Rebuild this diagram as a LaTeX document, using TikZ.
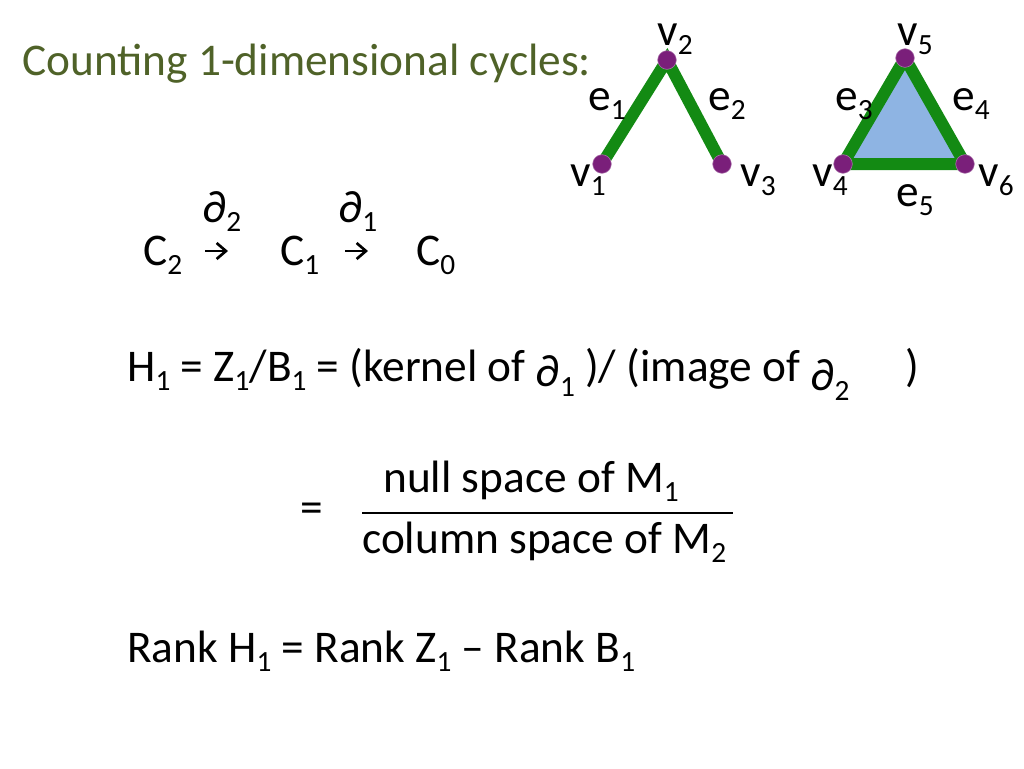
\documentclass[tikz,border=0pt]{standalone}
\usepackage{fontspec}
\usetikzlibrary{arrows.meta}
\setmainfont{Carlito}
\definecolor{titlegreen}{HTML}{4F6228}
\definecolor{edgegreen}{HTML}{138A13}
\definecolor{vertpurple}{HTML}{7A1F7A}
\definecolor{faceblue}{HTML}{8EB4E3}
\newcommand{\sbs}[1]{\raisebox{-0.22em}{\fontsize{22}{24}\selectfont #1}}
\tikzset{
	txt/.style={font=\fontsize{34}{38}\selectfont, inner sep=0pt, anchor=base west},
	vert/.style={circle, fill=vertpurple, draw=vertpurple!60!white, inner sep=0pt, minimum size=14pt},
	edge/.style={edgegreen, line width=9pt},
}
\begin{document}
\begin{tikzpicture}[x=0.75pt,y=-0.75pt]
		\useasboundingbox (0,0) rectangle (1024,768);
		
		% Title
		\node[txt, text=titlegreen] (title) at (22,75) {Counting 1-dimensional cycles:};
		
		% Path v1 v2 v3
		\coordinate (v1) at (602,164);
		\coordinate (v2) at (667,60);
		\coordinate (v3) at (722,164);
		\draw[edge] (v1) -- (v2) -- (v3);
		\node[vert] (n1) at (v1) {};
		\node[vert] (n2) at (v2) {};
		\node[vert] (n3) at (v3) {};
		
		% Triangle v4 v5 v6
		\coordinate (v4) at (843,164);
		\coordinate (v5) at (905,58);
		\coordinate (v6) at (965,164);
		\filldraw[edge, fill=faceblue, line join=round] (v4) -- (v5) -- (v6) -- cycle;
		\node[vert] (n4) at (v4) {};
		\node[vert] (n5) at (v5) {};
		\node[vert] (n6) at (v6) {};
		
		% Labels
		\node[txt] (l2) at (657,45) {v\sbs{2}};
		\node[txt] (l5) at (897,45) {v\sbs{5}};
		\node[txt] (le1) at (588,110) {e\sbs{1}};
		\node[txt] (le2) at (708,110) {e\sbs{2}};
		\node[txt] (le3) at (835,110) {e\sbs{3}};
		\node[txt] (le4) at (952,110) {e\sbs{4}};
		\node[txt] (l1) at (570,186) {v\sbs{1}};
		\node[txt] (l3) at (740,186) {v\sbs{3}};
		\node[txt] (l4) at (812,186) {v\sbs{4}};
		\node[txt] (l6) at (978,186) {v\sbs{6}};
		\node[txt] (le5) at (896,206) {e\sbs{5}};
		
		% Chain complex
		\node[txt] (d2) at (202,222) {∂\sbs{2}};
		\node[txt] (d1) at (338,222) {∂\sbs{1}};
		\node[txt] (c2) at (143,265) {C\sbs{2}};
		\node[txt] (c1) at (280,265) {C\sbs{1}};
		\node[txt] (c0) at (416,265) {C\sbs{0}};
		\draw[-{Straight Barb[length=7pt,width=12pt]}, line width=2pt] (205,251) -- (228,251);
		\draw[-{Straight Barb[length=7pt,width=12pt]}, line width=2pt] (345,251) -- (368,251);
		
		% Homology
		\node[txt] (h1) at (127,381) {H\sbs{1} = Z\sbs{1}/B\sbs{1} = (kernel of \raisebox{-4pt}{∂\sbs{1}} )/ (image of \raisebox{-7pt}{∂\sbs{2}}\quad\ )};
		
		% Fraction
		\node[txt] (eq) at (300,522) {=};
		\node[txt] (num) at (383,492) {null space of M\sbs{1}};
		\node[txt] (den) at (362,553) {column space of M\sbs{2}};
		\draw[line width=1.2pt] (362,513) -- (733,513);
		
		% Rank
		\node[txt] (rank) at (127,662) {Rank H\sbs{1} = Rank Z\sbs{1} – Rank B\sbs{1}};
	\end{tikzpicture}
\end{document}
